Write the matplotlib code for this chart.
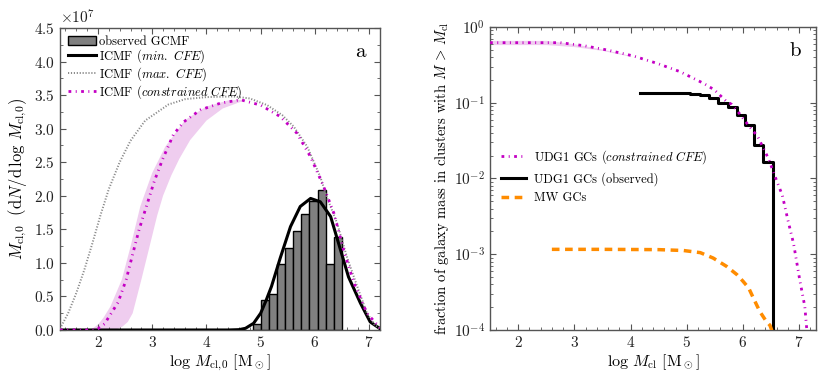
import numpy as np
import matplotlib
matplotlib.use("Agg")
import matplotlib.pyplot as plt
from matplotlib.ticker import MultipleLocator, ScalarFormatter, LogLocator, NullFormatter

plt.rcParams['font.family'] = 'serif'
plt.rcParams['font.serif'] = ['cmr10']
plt.rcParams['mathtext.fontset'] = 'cm'
plt.rcParams['axes.formatter.use_mathtext'] = True

SCALE = 1e7

## panel a: histogram of observed GC masses (heights in units of 1e7)
hist_edges = [4.85, 5.0, 5.15, 5.3, 5.45, 5.6, 5.75, 5.9, 6.05, 6.2, 6.35, 6.5]
hist_heights = [0.09, 0.44, 0.53, 0.99, 1.22, 1.48, 1.73, 1.92, 2.08, 0.98, 1.39]

# ICMF (min. CFE)
min_x = [1.3, 4.4, 4.6, 4.72, 4.87, 5.0, 5.1, 5.2, 5.36, 5.55, 5.73, 5.92, 6.1, 6.29,
         6.47, 6.62, 6.84, 7.02, 7.2]
min_y = [0.0, 0.0, 0.005, 0.025, 0.1, 0.25, 0.44, 0.65, 1.07, 1.54, 1.84, 1.96, 1.91,
         1.69, 1.2, 0.79, 0.40, 0.12, 0.02]

# ICMF (max. CFE)
max_x = [1.3, 1.45, 1.6, 1.75, 1.9, 2.05, 2.2, 2.4, 2.6, 2.87, 3.3, 3.61, 4.0, 4.5,
         4.8, 5.12, 5.4, 5.61, 5.86, 6.1, 6.22, 6.41, 6.59, 6.78, 6.96, 7.1, 7.2]
max_y = [0.02, 0.25, 0.55, 0.9, 1.3, 1.72, 2.1, 2.5, 2.82, 3.12, 3.36, 3.44, 3.47, 3.48,
         3.45, 3.35, 3.2, 3.03, 2.73, 2.28, 1.98, 1.59, 1.09, 0.65, 0.25, 0.08, 0.02]

# ICMF (constrained CFE)
con_x = [1.3, 1.92, 2.0, 2.12, 2.37, 2.52, 2.64, 2.76, 2.9, 3.04, 3.19, 3.39, 3.58,
         3.89, 4.26, 4.63, 5.0, 5.36, 5.67, 5.92, 6.16, 6.35, 6.53, 6.72, 6.96, 7.2]
con_y = [0.0, 0.0, 0.02, 0.09, 0.41, 0.75, 1.13, 1.5, 1.86, 2.22, 2.54, 2.91, 3.1,
         3.28, 3.38, 3.43, 3.35, 3.18, 2.93, 2.58, 2.14, 1.74, 1.19, 0.70, 0.25, 0.03]

# shaded range of the constrained CFE
band_up_x = [1.86, 2.0, 2.1, 2.23, 2.44, 2.6, 2.78, 3.0, 3.24, 3.61, 4.0, 4.4, 4.7]
band_up_y = [0.0, 0.08, 0.18, 0.35, 0.75, 1.24, 1.84, 2.34, 2.73, 3.13, 3.33, 3.42, 3.43]
band_lo_x = [2.32, 2.45, 2.55, 2.64, 2.8, 2.95, 3.09, 3.2, 3.35, 3.5, 3.7, 4.0, 4.3, 4.7]
band_lo_y = [0.0, 0.05, 0.12, 0.25, 0.75, 1.24, 1.7, 2.0, 2.3, 2.55, 2.83, 3.12, 3.3, 3.42]

## panel b: cumulative mass fractions
udg_x = [1.5, 2.75, 3.17, 3.58, 4.05, 4.47, 4.88, 5.3, 5.49, 5.7, 5.8, 5.95, 6.1,
         6.26, 6.45, 6.6, 6.7, 6.8, 6.9, 7.01, 7.1, 7.13, 7.15]
udg_y = [0.62, 0.62, 0.566, 0.497, 0.414, 0.331, 0.257, 0.18, 0.148, 0.105, 0.095,
         0.07, 0.05, 0.036, 0.0185, 0.0093, 0.006, 0.0028, 0.00138, 0.000457,
         0.000204, 0.000112, 0.00008]
udg_band_x = [1.5, 2.5, 3.0, 3.5, 4.0]
udg_band_lo = [0.585, 0.585, 0.55, 0.49, 0.41]
udg_band_hi = [0.665, 0.665, 0.60, 0.51, 0.42]

obs_x = [4.16, 5.06, 5.24, 5.40, 5.56, 5.74, 5.89, 6.04, 6.19, 6.35, 6.53, 6.53]
obs_y = [0.136, 0.1306, 0.126, 0.115, 0.1, 0.089, 0.069, 0.051, 0.0275, 0.0166,
         0.0166, 1e-5]

mw_x = [2.6, 3.5, 4.5, 4.94, 5.24, 5.47, 5.71, 5.89, 6.0, 6.1, 6.2, 6.3, 6.4,
        6.48, 6.51, 6.52]
mw_y = [1.16e-3, 1.16e-3, 1.15e-3, 1.12e-3, 1.05e-3, 0.89e-3, 0.69e-3, 0.54e-3,
        0.44e-3, 0.36e-3, 0.25e-3, 0.175e-3, 0.135e-3, 0.115e-3, 0.10e-3, 0.05e-3]

MAG = '#c400c4'
BAND = '#efcdef'
ORANGE = '#ff8c00'
FRAME = '#555555'
magdash = (0, (1.0, 1.6, 0.35, 1.6))

fig = plt.figure(figsize=(8.3, 3.89), dpi=100)
ax1 = fig.add_axes([0.0723, 0.1517, 0.3855, 0.7764])
ax2 = fig.add_axes([0.5904, 0.1517, 0.3928, 0.779])

# ---- panel a
s = SCALE
ax1.fill(np.concatenate([band_up_x, band_lo_x[::-1]]),
         np.concatenate([band_up_y, band_lo_y[::-1]]) * s,
         color=BAND, lw=0, zorder=1)
widths = np.diff(hist_edges)
bars = ax1.bar(hist_edges[:-1], np.array(hist_heights) * s, width=widths, align='edge',
               color='#808080', edgecolor='black', lw=1.0, zorder=2)
l_min, = ax1.plot(min_x, np.array(min_y) * s, color='black', lw=2.2, zorder=3)
l_max, = ax1.plot(max_x, np.array(max_y) * s, color='#8a8a8a', lw=1.4,
                  ls=(0, (0.6, 0.9)), zorder=3)
l_con, = ax1.plot(con_x, np.array(con_y) * s, color=MAG, lw=2.0, ls=magdash, zorder=4)

ax1.set_xlim(1.3, 7.2)
ax1.set_ylim(0, 4.5e7)
ax1.xaxis.set_major_locator(MultipleLocator(1))
ax1.xaxis.set_minor_locator(MultipleLocator(0.2))
ax1.yaxis.set_major_locator(MultipleLocator(0.5e7))
ax1.yaxis.set_minor_locator(MultipleLocator(0.25e7))
fmt = ScalarFormatter(useMathText=True)
fmt.set_powerlimits((7, 7))
ax1.yaxis.set_major_formatter(fmt)
ax1.yaxis.get_offset_text().set_fontsize(11)
ax1.set_xlabel(r'$\log\,M_{\rm cl,\!0}$ [M$_\odot$]', fontsize=11.5, labelpad=2)
ax1.set_ylabel(r'$M_{\rm cl,\!0}\ \ (\mathrm{d}N/\mathrm{d}\,\log\,M_{\rm cl,\!0})$',
               fontsize=12, labelpad=4)
ax1.text(0.955, 0.92, 'a', transform=ax1.transAxes, fontsize=15, ha='right', va='center')
ax1.legend([bars, l_min, l_max, l_con],
           ['observed GCMF', r'ICMF ($\mathit{min.\ CFE}$)', r'ICMF ($\mathit{max.\ CFE}$)',
            r'ICMF ($\mathit{constrained\ CFE}$)'],
           loc='upper left', bbox_to_anchor=(0.025, 0.975), frameon=False, fontsize=9,
           handlelength=2.2, handleheight=0.8, handletextpad=0.3, labelspacing=0.0,
           borderaxespad=0, borderpad=0)

# ---- panel b
ax2.fill_between(udg_band_x, udg_band_lo, udg_band_hi, color=BAND, lw=0, zorder=1)
ax2.plot(udg_x, udg_y, color=MAG, lw=2.0, ls=magdash, zorder=4,
         label=r'UDG1 GCs ($\mathit{constrained\ CFE}$)')
ax2.plot(obs_x, obs_y, color='black', lw=2.2, drawstyle='steps-post', zorder=3,
         label='UDG1 GCs (observed)')
ax2.plot(mw_x, mw_y, color=ORANGE, lw=2.5, ls=(0, (2.2, 1.6)), zorder=3,
         label='MW GCs')
ax2.set_yscale('log')
ax2.set_xlim(1.5, 7.3)
ax2.set_ylim(1e-4, 1)
ax2.xaxis.set_major_locator(MultipleLocator(1))
ax2.xaxis.set_minor_locator(MultipleLocator(0.2))
ax2.yaxis.set_major_locator(LogLocator(base=10, numticks=10))
ax2.yaxis.set_minor_locator(LogLocator(base=10, subs=np.arange(2, 10), numticks=10))
ax2.yaxis.set_minor_formatter(NullFormatter())
ax2.set_xlabel(r'$\log\,M_{\rm cl}$ [M$_\odot$]', fontsize=11.5, labelpad=2)
ax2.set_ylabel(r'fraction of galaxy mass in clusters with $M\,>\,M_{\rm cl}$',
               fontsize=10.5, labelpad=2)
ax2.text(0.955, 0.92, 'b', transform=ax2.transAxes, fontsize=15, ha='right', va='center')
ax2.legend(loc='upper left', bbox_to_anchor=(0.035, 0.6), frameon=False, fontsize=9,
           handlelength=2.0, handletextpad=0.6, labelspacing=0.5, borderaxespad=0,
           borderpad=0)

for ax in (ax1, ax2):
    for sp in ax.spines.values():
        sp.set_color(FRAME)
        sp.set_linewidth(1.0)
    ax.tick_params(which='both', direction='in', top=True, right=True, color=FRAME,
                   labelsize=11, labelcolor='#222222')
    ax.tick_params(which='major', length=4)
    ax.tick_params(which='minor', length=2)

fig.savefig('out.png', dpi=100)
